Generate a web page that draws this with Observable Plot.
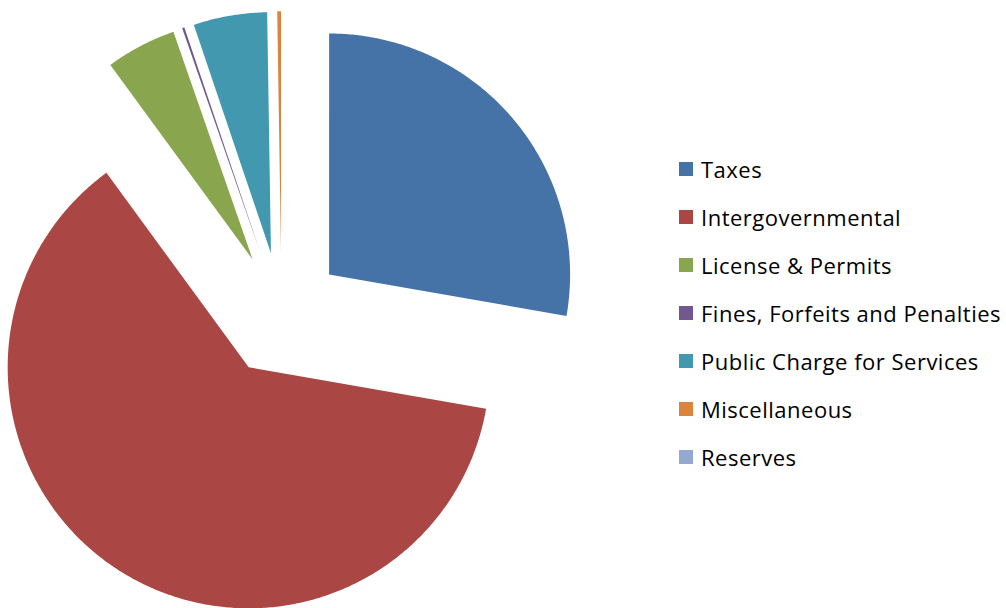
<!DOCTYPE html>
<html>
<head>
<meta charset="utf-8">
<script src="https://cdn.jsdelivr.net/npm/d3@7"></script>
<script src="https://cdn.jsdelivr.net/npm/@observablehq/plot@0.6"></script>
<style>
  html, body { margin: 0; padding: 0; background: #fff; }
  #wrap { position: relative; width: 1006px; height: 608px; }
  #legend { position: absolute; left: 679px; top: 154px; font-family: "Open Sans", Lato, sans-serif; font-size: 22px; letter-spacing: 0.5px; color: #000; }
  .item { height: 48px; display: flex; align-items: flex-start; white-space: nowrap; }
  .sw { width: 14px; height: 14px; margin-top: 8px; margin-right: 8px; flex: none; }
</style>
</head>
<body>
<div id="wrap"><div id="chart"></div><div id="legend"></div></div>
<script>
const categories = ["Taxes", "Intergovernmental", "License & Permits", "Fines, Forfeits and Penalties", "Public Charge for Services", "Miscellaneous", "Reserves"];
const values = [27.75, 62.2, 4.72, 0.15, 4.93, 0.25, 0];
const colors = ["#4572A7", "#AA4643", "#89A54E", "#71588F", "#4198AF", "#DB843D", "#93A9CF"];

const W = 1006, H = 608;
const R = 1;          // pie radius in data units
const explode = 0.258; // explosion distance in radius units
const cx = 281, cy = 314, pxR = 241; // layout: pie centre & radius in pixels

const total = d3.sum(values);
const pts = [];
let acc = 0;
values.forEach((v, i) => {
  const a0 = acc / total * 2 * Math.PI;
  acc += v;
  const a1 = acc / total * 2 * Math.PI;
  if (v <= 0) return;
  const mid = (a0 + a1) / 2;
  const ox = explode * Math.sin(mid), oy = explode * Math.cos(mid);
  pts.push({cat: categories[i], x: ox, y: oy});
  const n = Math.max(2, Math.ceil((a1 - a0) / (Math.PI / 360)));
  for (let k = 0; k <= n; k++) {
    const a = a0 + (a1 - a0) * k / n;
    pts.push({cat: categories[i], x: ox + R * Math.sin(a), y: oy + R * Math.cos(a)});
  }
});

const chart = Plot.plot({
  width: W, height: H,
  margin: 0,
  x: {domain: [-cx / pxR, (W - cx) / pxR], axis: null},
  y: {domain: [(cy - H) / pxR, cy / pxR], axis: null},
  color: {domain: categories, range: colors},
  marks: [
    Plot.line(pts, {x: "x", y: "y", z: "cat", fill: "cat", stroke: "none", curve: "linear-closed"})
  ]
});
document.getElementById("chart").appendChild(chart);

const legend = document.getElementById("legend");
categories.forEach((c, i) => {
  const d = document.createElement("div");
  d.className = "item";
  d.innerHTML = `<span class="sw" style="background:${colors[i]}"></span><span>${c}</span>`;
  legend.appendChild(d);
});
</script>
</body>
</html>
